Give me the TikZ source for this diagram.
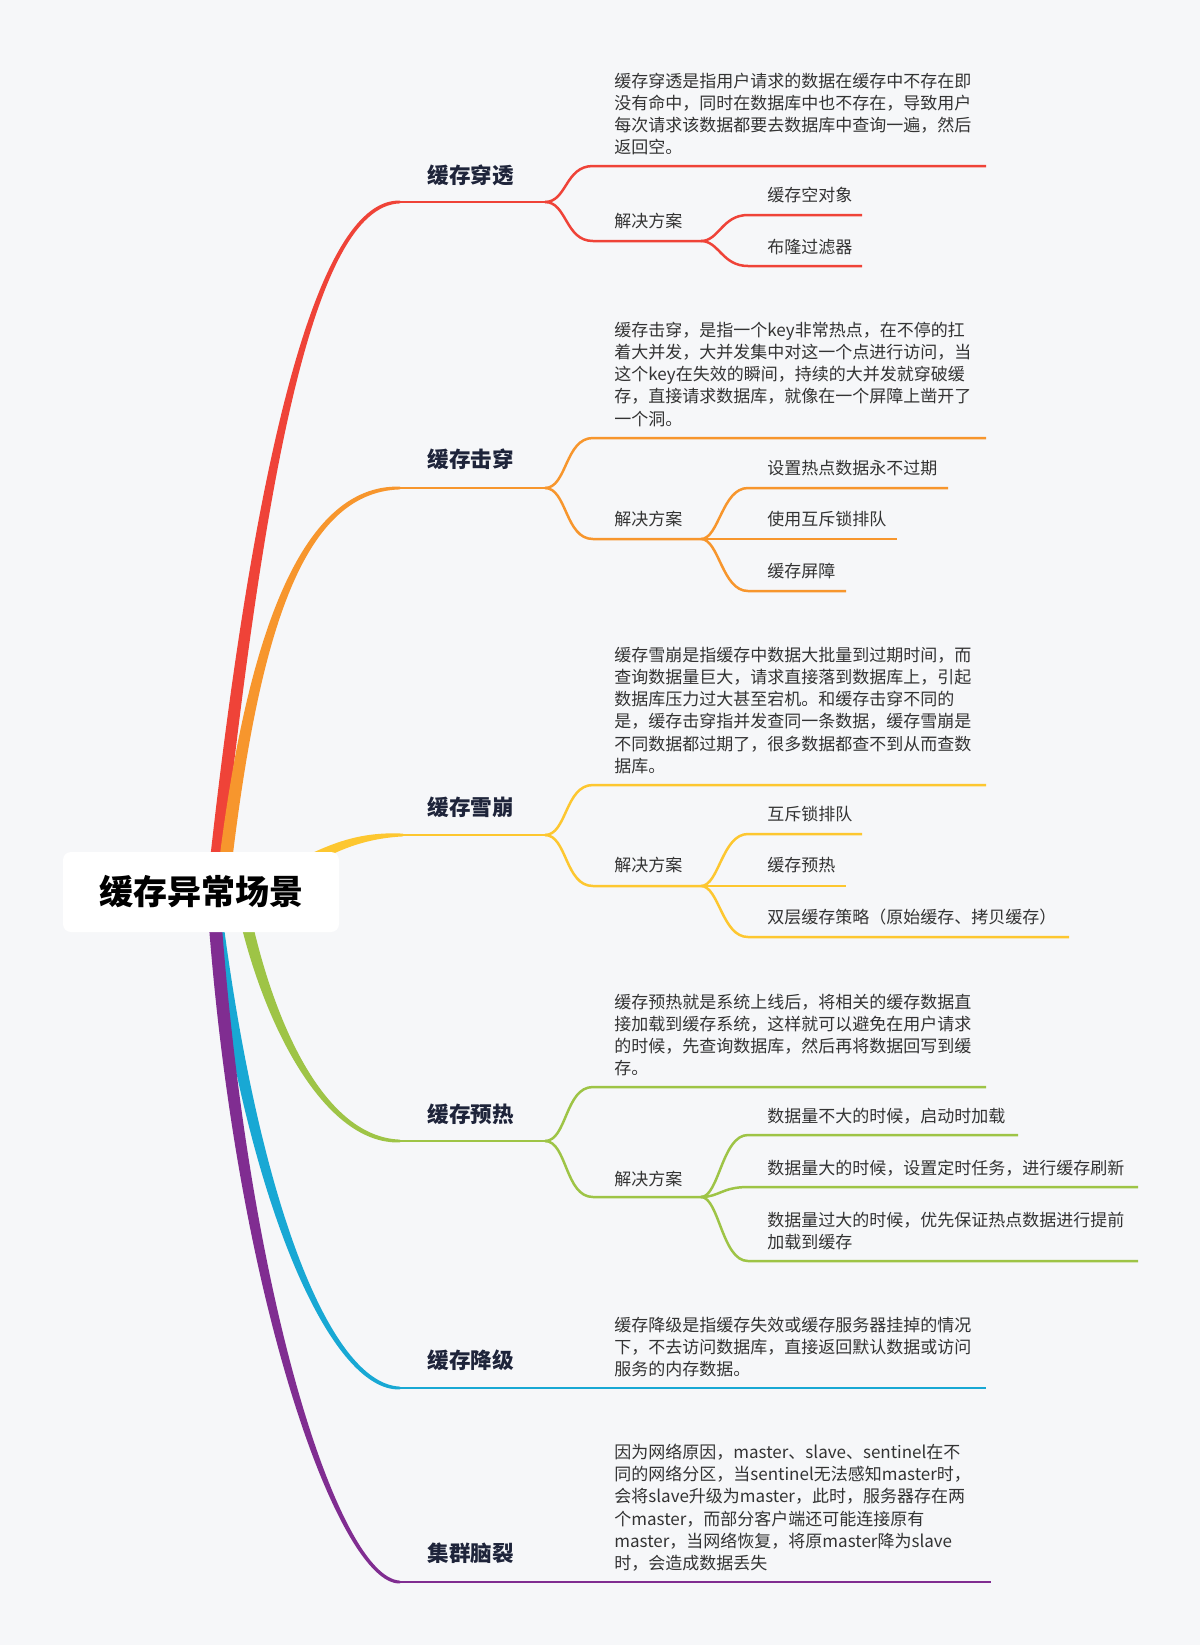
\documentclass[tikz,border=0pt]{standalone}
\usepackage{fontspec}
\setmainfont{Noto Sans CJK SC}
\usepackage{tikz}
\usetikzlibrary{calc}
\pgfdeclarelayer{paper}
\pgfdeclarelayer{limbs}
\pgfsetlayers{paper,limbs,main}

\definecolor{bgpage}{RGB}{246,247,249}
\definecolor{bred}{RGB}{239,67,56}
\definecolor{borange}{RGB}{247,150,45}
\definecolor{byellow}{RGB}{253,199,48}
\definecolor{bgreen}{RGB}{158,196,70}
\definecolor{bblue}{RGB}{24,168,212}
\definecolor{bpurple}{RGB}{128,45,145}
\definecolor{topicink}{RGB}{30,36,58}
\definecolor{textink}{RGB}{51,51,51}

% tapered main branch: colour, start, control 1, control 2, end, start offset, end offset
\newcommand{\taper}[7]{%
  \fill[#1] ($#2+#6$) .. controls ($#3+#6$) and ($#4+3*#7$) .. ($#5+#7$)
    -- ($#5-#7$) .. controls ($#4-3*#7$) and ($#3-#6$) .. ($#2-#6$) -- cycle;}

\begin{document}
\begin{tikzpicture}[x=0.5pt, y=-0.5pt,
    rootbox/.style={fill=white, rounded corners=4pt, minimum width=138pt, minimum height=40pt, inner sep=0pt, text=black, font=\fontsize{17}{20}\selectfont\bfseries},
    topic/.style={anchor=west, inner sep=0pt, text=topicink, font=\fontsize{10.8}{13}\selectfont\bfseries},
    desc/.style={anchor=north west, inner sep=0pt, align=left, text=textink, font=\fontsize{8.5}{11.1}\selectfont},
    leaf/.style={anchor=west, inner sep=0pt, text=textink, font=\fontsize{8.5}{11.1}\selectfont},
    stem/.style={line width=1.4pt},
    twig/.style={line width=1.25pt}
]
    \begin{pgfonlayer}{paper}
        \fill[bgpage] (0,0) rectangle (1200,1645);
    \end{pgfonlayer}
    \useasboundingbox (0,0) rectangle (1200,1645);

    % Root
    \node[rootbox] (root) at (201,892) {缓存异常场景};
    \coordinate (hub) at ($(root)+(12,0)$);
    \coordinate (hub-o) at ($(root)+(21,0)$);
    \coordinate (hub-y) at ($(root)+(79,-17)$);
    \coordinate (hub-g) at ($(root)+(39,0)$);

    % 缓存穿透 (red)
    \node[topic] (pen) at (427,175) {缓存穿透};
    \coordinate (pen-e) at (400,202);
    \coordinate (pen-j) at (545,202);
    \coordinate (pen-d) at (593,166);
    \coordinate (pen-dr) at (986,166);
    \coordinate (pen-s) at (593,241);
    \coordinate (pen-k) at (701,241);
    \coordinate (pen-a) at (748,215);
    \coordinate (pen-ar) at (862,215);
    \coordinate (pen-b) at (748,266);
    \coordinate (pen-br) at (862,266);
    \node[desc] (pen-txt) at (614,72.5) {缓存穿透是指用户请求的数据在缓存中不存在即\\没有命中，同时在数据库中也不存在，导致用户\\每次请求该数据都要去数据库中查询一遍，然后\\返回空。};
    \node[leaf] (pen-sol) at (614,221) {解决方案};
    \node[leaf] (pen-a-txt) at (767,195) {缓存空对象};
    \node[leaf] (pen-b-txt) at (767,247) {布隆过滤器};

    % 缓存击穿 (orange)
    \node[topic] (brk) at (427,459) {缓存击穿};
    \coordinate (brk-e) at (400,488);
    \coordinate (brk-j) at (545,488);
    \coordinate (brk-d) at (593,438);
    \coordinate (brk-dr) at (986,438);
    \coordinate (brk-s) at (593,539);
    \coordinate (brk-k) at (701,539);
    \coordinate (brk-a) at (748,488);
    \coordinate (brk-ar) at (948,488);
    \coordinate (brk-br) at (897,539);
    \coordinate (brk-c) at (748,591);
    \coordinate (brk-cr) at (846,591);
    \node[desc] (brk-txt) at (614,321.5) {缓存击穿，是指一个key非常热点，在不停的扛\\着大并发，大并发集中对这一个点进行访问，当\\这个key在失效的瞬间，持续的大并发就穿破缓\\存，直接请求数据库，就像在一个屏障上凿开了\\一个洞。};
    \node[leaf] (brk-sol) at (614,519) {解决方案};
    \node[leaf] (brk-a-txt) at (767,468) {设置热点数据永不过期};
    \node[leaf] (brk-b-txt) at (767,519) {使用互斥锁排队};
    \node[leaf] (brk-c-txt) at (767,571) {缓存屏障};

    % 缓存雪崩 (yellow)
    \node[topic] (ava) at (427,807) {缓存雪崩};
    \coordinate (ava-e) at (403,835);
    \coordinate (ava-j) at (545,835);
    \coordinate (ava-d) at (593,785);
    \coordinate (ava-dr) at (986,785);
    \coordinate (ava-s) at (593,886);
    \coordinate (ava-k) at (701,886);
    \coordinate (ava-a) at (748,834);
    \coordinate (ava-ar) at (862,834);
    \coordinate (ava-br) at (846,886);
    \coordinate (ava-c) at (748,937);
    \coordinate (ava-cr) at (1069,937);
    \node[desc] (ava-txt) at (614,646.5) {缓存雪崩是指缓存中数据大批量到过期时间，而\\查询数据量巨大，请求直接落到数据库上，引起\\数据库压力过大甚至宕机。和缓存击穿不同的\\是，缓存击穿指并发查同一条数据，缓存雪崩是\\不同数据都过期了，很多数据都查不到从而查数\\据库。};
    \node[leaf] (ava-sol) at (614,865) {解决方案};
    \node[leaf] (ava-a-txt) at (767,814) {互斥锁排队};
    \node[leaf] (ava-b-txt) at (767,865) {缓存预热};
    \node[leaf] (ava-c-txt) at (767,917) {双层缓存策略（原始缓存、拷贝缓存）};

    % 缓存预热 (green)
    \node[topic] (warm) at (427,1114) {缓存预热};
    \coordinate (warm-e) at (400,1141);
    \coordinate (warm-j) at (545,1141);
    \coordinate (warm-d) at (593,1087);
    \coordinate (warm-dr) at (986,1087);
    \coordinate (warm-s) at (593,1197);
    \coordinate (warm-k) at (701,1197);
    \coordinate (warm-a) at (748,1135);
    \coordinate (warm-ar) at (1018,1135);
    \coordinate (warm-b) at (748,1187);
    \coordinate (warm-br) at (1138,1187);
    \coordinate (warm-c) at (748,1261);
    \coordinate (warm-cr) at (1138,1261);
    \node[desc] (warm-txt) at (614,993.5) {缓存预热就是系统上线后，将相关的缓存数据直\\接加载到缓存系统，这样就可以避免在用户请求\\的时候，先查询数据库，然后再将数据回写到缓\\存。};
    \node[leaf] (warm-sol) at (614,1179) {解决方案};
    \node[leaf] (warm-a-txt) at (767,1116) {数据量不大的时候，启动时加载};
    \node[leaf] (warm-b-txt) at (767,1168) {数据量大的时候，设置定时任务，进行缓存刷新};
    \node[desc] (warm-c-txt) at (767,1211.5) {数据量过大的时候，优先保证热点数据进行提前\\加载到缓存};

    % 缓存降级 (blue)
    \node[topic] (deg) at (427,1360) {缓存降级};
    \coordinate (deg-e) at (400,1388);
    \coordinate (deg-er) at (986,1388);
    \node[desc] (deg-txt) at (614,1316.5) {缓存降级是指缓存失效或缓存服务器挂掉的情况\\下，不去访问数据库，直接返回默认数据或访问\\服务的内存数据。};

    % 集群脑裂 (purple)
    \node[topic] (brain) at (427,1553) {集群脑裂};
    \coordinate (brain-e) at (400,1582);
    \coordinate (brain-er) at (991,1582);
    \node[desc] (brain-txt) at (614,1443.5) {因为网络原因，master、slave、sentinel在不\\同的网络分区，当sentinel无法感知master时，\\会将slave升级为master，此时，服务器存在两\\个master，而部分客户端还可能连接原有\\master，当网络恢复，将原master降为slave\\时，会造成数据丢失};

    % Main branches behind the root
    \begin{pgfonlayer}{limbs}
        \taper{bred}{(hub)}{(255,500)}{(310,202)}{(pen-e)}{(-6.5,0)}{(0,-1.4)}
        \taper{borange}{(hub-o)}{(250,640)}{(300,488)}{(brk-e)}{(-6.5,0)}{(0,-1.4)}
        \taper{byellow}{(hub-y)}{(320,855)}{(350,835)}{(ava-e)}{(2.4,4.8)}{(0,1.4)}
        \taper{bgreen}{(hub-g)}{(262,1010)}{(320,1141)}{(warm-e)}{(-6,0)}{(0,1.4)}
        \taper{bblue}{(hub)}{(250,1200)}{(330,1388)}{(deg-e)}{(-6.5,0)}{(0,1.4)}
        \taper{bpurple}{(hub)}{(240,1300)}{(340,1582)}{(brain-e)}{(-6.5,0)}{(0,1.4)}
    \end{pgfonlayer}

    % Red sub-branches
    \draw[stem, bred] (pen-e) -- (pen-j);
    \draw[twig, bred] (pen-j) .. controls +(22,0) and +(-28,0) .. (pen-d) -- (pen-dr);
    \draw[twig, bred] (pen-j) .. controls +(22,0) and +(-28,0) .. (pen-s) -- (pen-k);
    \draw[twig, bred] (pen-k) .. controls +(18,0) and +(-26,0) .. (pen-a) -- (pen-ar);
    \draw[twig, bred] (pen-k) .. controls +(18,0) and +(-26,0) .. (pen-b) -- (pen-br);

    % Orange sub-branches
    \draw[stem, borange] (brk-e) -- (brk-j);
    \draw[twig, borange] (brk-j) .. controls +(22,0) and +(-28,0) .. (brk-d) -- (brk-dr);
    \draw[twig, borange] (brk-j) .. controls +(22,0) and +(-28,0) .. (brk-s) -- (brk-k);
    \draw[twig, borange] (brk-k) .. controls +(18,0) and +(-26,0) .. (brk-a) -- (brk-ar);
    \draw[twig, borange] (brk-k) -- (brk-br);
    \draw[twig, borange] (brk-k) .. controls +(18,0) and +(-26,0) .. (brk-c) -- (brk-cr);

    % Yellow sub-branches
    \draw[stem, byellow] (ava-e) -- (ava-j);
    \draw[twig, byellow] (ava-j) .. controls +(22,0) and +(-28,0) .. (ava-d) -- (ava-dr);
    \draw[twig, byellow] (ava-j) .. controls +(22,0) and +(-28,0) .. (ava-s) -- (ava-k);
    \draw[twig, byellow] (ava-k) .. controls +(18,0) and +(-26,0) .. (ava-a) -- (ava-ar);
    \draw[twig, byellow] (ava-k) -- (ava-br);
    \draw[twig, byellow] (ava-k) .. controls +(18,0) and +(-26,0) .. (ava-c) -- (ava-cr);

    % Green sub-branches
    \draw[stem, bgreen] (warm-e) -- (warm-j);
    \draw[twig, bgreen] (warm-j) .. controls +(22,0) and +(-28,0) .. (warm-d) -- (warm-dr);
    \draw[twig, bgreen] (warm-j) .. controls +(22,0) and +(-28,0) .. (warm-s) -- (warm-k);
    \draw[twig, bgreen] (warm-k) .. controls +(18,0) and +(-26,0) .. (warm-a) -- (warm-ar);
    \draw[twig, bgreen] (warm-k) .. controls +(18,0) and +(-26,0) .. (warm-b) -- (warm-br);
    \draw[twig, bgreen] (warm-k) .. controls +(18,0) and +(-26,0) .. (warm-c) -- (warm-cr);

    % Blue and purple underlines
    \draw[stem, bblue] (deg-e) -- (deg-er);
    \draw[stem, bpurple] (brain-e) -- (brain-er);

\end{tikzpicture}
\end{document}
